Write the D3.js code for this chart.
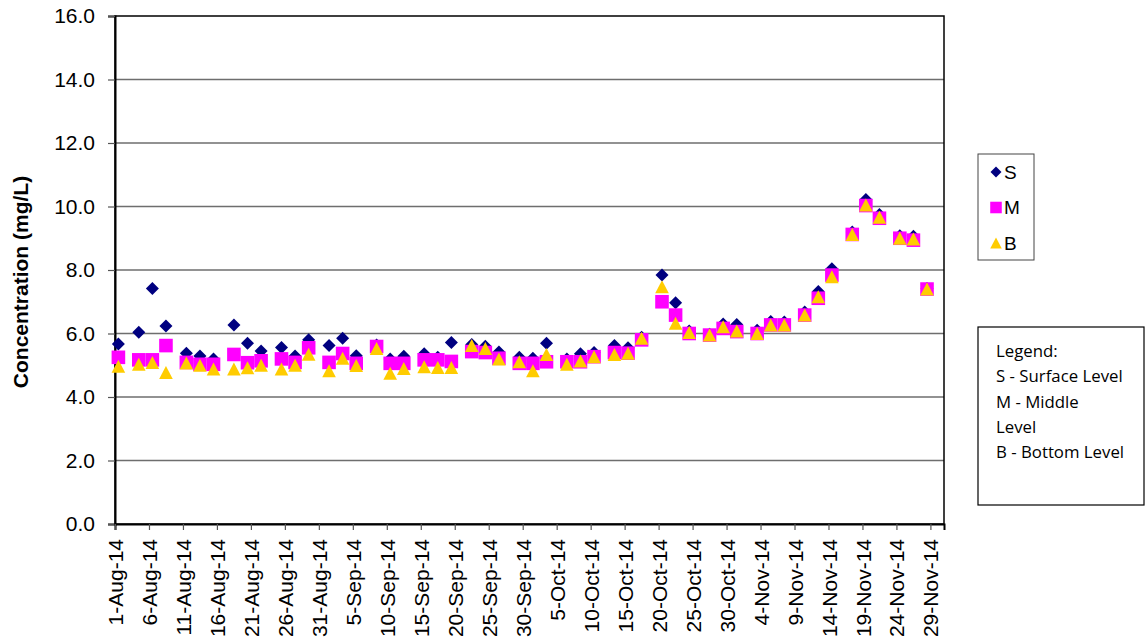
<!DOCTYPE html>
<html>
<head>
<meta charset="utf-8">
<script src="https://cdn.jsdelivr.net/npm/d3@7"></script>
<style>
  html, body { margin: 0; padding: 0; background: #fff; }
  svg { display: block; }
</style>
</head>
<body>
<svg id="chart" width="1145" height="644"></svg>
<script>
// ---------------- data ----------------
const dates = [
  "2014-08-01","2014-08-04","2014-08-06","2014-08-08","2014-08-11","2014-08-13","2014-08-15",
  "2014-08-18","2014-08-20","2014-08-22","2014-08-25","2014-08-27","2014-08-29",
  "2014-09-01","2014-09-03","2014-09-05","2014-09-08","2014-09-10","2014-09-12",
  "2014-09-15","2014-09-17","2014-09-19","2014-09-22","2014-09-24","2014-09-26",
  "2014-09-29","2014-10-01","2014-10-03","2014-10-06","2014-10-08","2014-10-10",
  "2014-10-13","2014-10-15","2014-10-17","2014-10-20","2014-10-22","2014-10-24",
  "2014-10-27","2014-10-29","2014-10-31","2014-11-03","2014-11-05","2014-11-07",
  "2014-11-10","2014-11-12","2014-11-14","2014-11-17","2014-11-19","2014-11-21",
  "2014-11-24","2014-11-26","2014-11-28"
];
const surface = [
  5.67,6.04,7.42,6.24,5.38,5.29,5.20,
  6.27,5.69,5.45,5.56,5.29,5.80,
  5.62,5.85,5.30,5.64,5.20,5.28,
  5.36,5.25,5.72,5.65,5.60,5.42,
  5.25,5.22,5.69,5.20,5.36,5.40,
  5.62,5.55,5.88,7.84,6.97,6.08,
  5.98,6.30,6.28,6.10,6.38,6.36,
  6.68,7.32,8.04,9.20,10.22,9.75,
  9.08,9.06,7.42
];
const middle = [
  5.25,5.17,5.17,5.62,5.09,5.03,5.03,
  5.34,5.08,5.14,5.20,5.09,5.55,
  5.09,5.37,5.06,5.59,5.06,5.06,
  5.17,5.17,5.12,5.43,5.40,5.22,
  5.06,5.06,5.11,5.11,5.11,5.27,
  5.40,5.38,5.80,7.00,6.58,6.00,
  5.95,6.16,6.06,6.00,6.27,6.27,
  6.58,7.11,7.84,9.12,10.03,9.63,
  9.00,8.94,7.40
];
const bottom = [
  4.97,5.03,5.09,4.77,5.07,5.00,4.88,
  4.88,4.92,5.00,4.88,5.00,5.35,
  4.83,5.22,4.99,5.53,4.75,4.90,
  4.95,4.93,4.93,5.62,5.53,5.20,
  5.11,4.83,5.34,5.03,5.13,5.27,
  5.34,5.38,5.85,7.47,6.32,6.03,
  5.95,6.21,6.08,6.00,6.27,6.27,
  6.58,7.16,7.79,9.12,10.05,9.66,
  9.00,8.98,7.40
];
const seriesNames = ["S", "M", "B"];
const seriesColors = ["#000080", "#FF00FF", "#FFCC00"];
const seriesShapes = ["diamond", "square", "triangle"];
const yTicks = [0, 2, 4, 6, 8, 10, 12, 14, 16];
const xStart = "2014-08-01", xEnd = "2014-12-01";
const yTitle = "Concentration (mg/L)";
const noteLines = ["Legend:", "S - Surface Level", "M - Middle", "Level", "B - Bottom Level"];

// ---------------- chart ----------------
const parse = d3.utcParse("%Y-%m-%d");
const svg = d3.select("#chart");
const L = 115, R = 944, T = 16, B = 524;

const x = d3.scaleUtc().domain([parse(xStart), parse(xEnd)]).range([L, R]);
const y = d3.scaleLinear().domain([0, 16]).range([B, T]);

// gridlines
svg.append("g").selectAll("line")
  .data(yTicks.filter(v => v > 0 && v < 16))
  .join("line")
  .attr("x1", L).attr("x2", R)
  .attr("y1", d => y(d)).attr("y2", d => y(d))
  .attr("stroke", "#6e6e6e").attr("stroke-width", 1.5);

// frame
svg.append("rect").attr("x", L).attr("y", T).attr("width", R - L).attr("height", B - T)
  .attr("fill", "none").attr("stroke", "#000").attr("stroke-width", 1.5);

// y axis
const yAxis = svg.append("g").attr("transform", `translate(${L},0)`)
  .call(d3.axisLeft(y).tickValues(yTicks).tickFormat(d3.format(".1f")).tickSize(7).tickPadding(13));
yAxis.select(".domain").attr("stroke", "#000").attr("stroke-width", 2);
yAxis.selectAll(".tick line").attr("stroke", "#555").attr("stroke-width", 1.2);
yAxis.selectAll("text").attr("font-family", "Liberation Sans, Arial, sans-serif")
  .attr("font-size", 21).attr("fill", "#000");

// x axis
const xTickVals = d3.utcDay.range(parse(xStart), parse(xEnd), 5);
const xAxis = svg.append("g").attr("transform", `translate(0,${B})`)
  .call(d3.axisBottom(x).tickValues(xTickVals).tickFormat(d3.utcFormat("%-d-%b-%y")).tickSize(6));
xAxis.select(".domain").attr("stroke", "#000").attr("stroke-width", 2);
xAxis.selectAll(".tick line").attr("stroke", "#555").attr("stroke-width", 1.2);
xAxis.selectAll("text")
  .attr("font-family", "Liberation Sans, Arial, sans-serif")
  .attr("font-size", 21).attr("fill", "#000")
  .attr("text-anchor", "end")
  .attr("transform", "rotate(-90)")
  .attr("x", -15).attr("y", 0).attr("dy", "0.36em");

// y title
svg.append("text")
  .attr("transform", `translate(28,${(T + B) / 2 + 12}) rotate(-90)`)
  .attr("text-anchor", "middle")
  .attr("font-family", "Liberation Sans, Arial, sans-serif")
  .attr("font-weight", "bold").attr("font-size", 21)
  .text(yTitle);

// markers
function shapePath(shape) {
  if (shape === "diamond") return "M0,-6.5L6.5,0L0,6.5L-6.5,0Z";
  if (shape === "square") return "M-6.8,-6.8H6.8V6.8H-6.8Z";
  return "M0,-6.5L6.8,6.5H-6.8Z";
}
const seriesValues = [surface, middle, bottom];
seriesValues.forEach((vals, i) => {
  const pts = dates.map((d, j) => ({ date: d3.utcHour.offset(parse(d), 12), v: vals[j] }));
  svg.append("g").selectAll("path")
    .data(pts)
    .join("path")
    .attr("d", shapePath(seriesShapes[i]))
    .attr("transform", d => `translate(${x(d.date)},${y(d.v)})`)
    .attr("fill", seriesColors[i]);
});

// legend 1
const lg = svg.append("g");
lg.append("rect").attr("x", 978).attr("y", 154).attr("width", 56).attr("height", 106)
  .attr("fill", "#fff").attr("stroke", "#444").attr("stroke-width", 1);
seriesNames.forEach((name, i) => {
  const cy = 172 + i * 35.5;
  lg.append("path").attr("d", shapePath(seriesShapes[i]))
    .attr("transform", `translate(996,${cy}) scale(0.85)`)
    .attr("fill", seriesColors[i]);
  lg.append("text").attr("x", 1004).attr("y", cy).attr("dy", "0.36em")
    .attr("font-family", "Liberation Sans, Arial, sans-serif").attr("font-size", 19)
    .text(name);
});

// note box
const nb = svg.append("g");
nb.append("rect").attr("x", 978).attr("y", 327).attr("width", 166).attr("height", 178)
  .attr("fill", "#fff").attr("stroke", "#000").attr("stroke-width", 1.2);
noteLines.forEach((t, i) => {
  nb.append("text").attr("x", 996).attr("y", 351 + i * 25.3).attr("dy", "0.36em")
    .attr("font-family", "Open Sans, sans-serif").attr("font-size", 16.8)
    .attr("fill", "#000").text(t);
});
</script>
</body>
</html>
